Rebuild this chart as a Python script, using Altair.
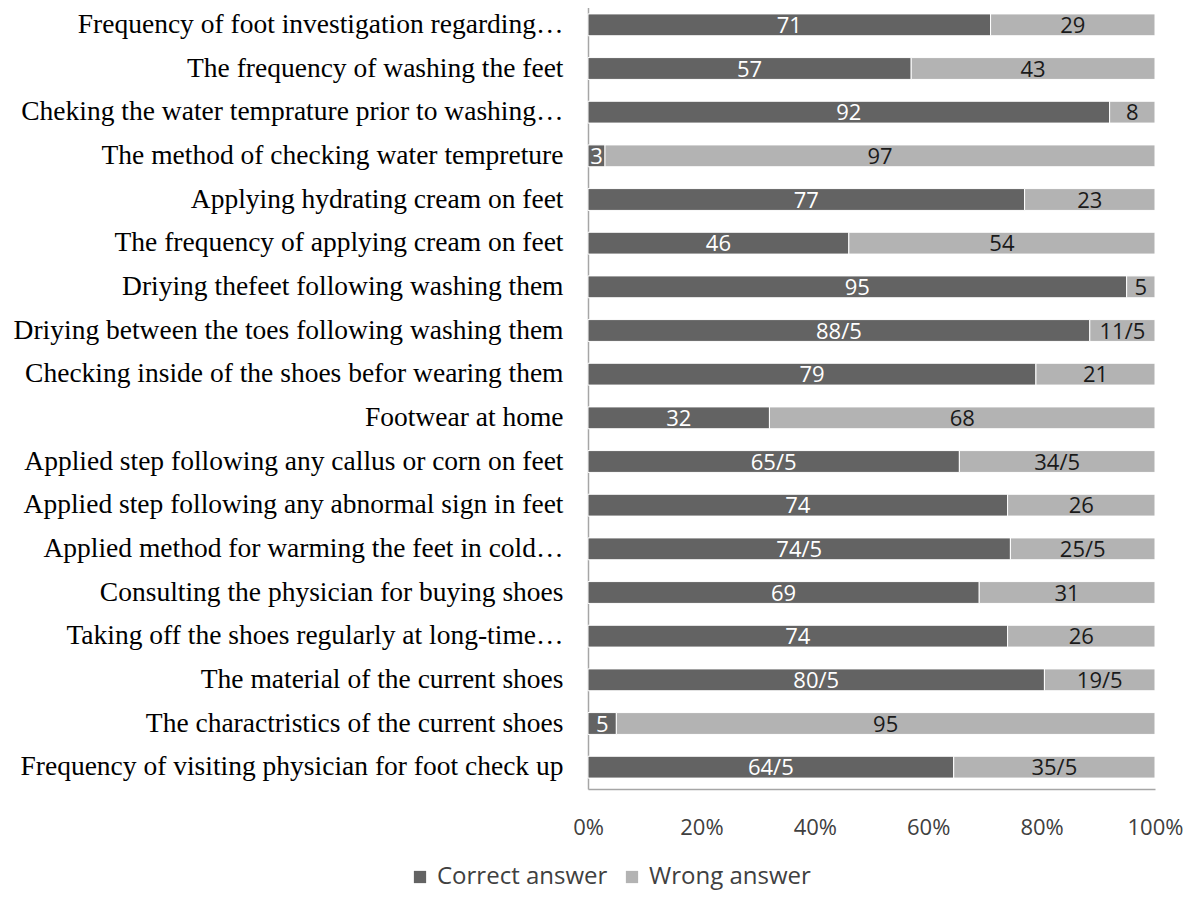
import altair as alt
import pandas as pd

categories = [
    "Frequency of foot investigation regarding…",
    "The frequency of washing the feet",
    "Cheking the water temprature prior to washing…",
    "The method of checking water tempreture",
    "Applying hydrating cream on feet",
    "The frequency of applying cream on feet",
    "Driying  thefeet following washing them",
    "Driying between the toes following washing them",
    "Checking inside of the shoes befor wearing them",
    "Footwear at home",
    "Applied step following any callus or corn on feet",
    "Applied step following any abnormal sign in feet",
    "Applied method for warming the feet in cold…",
    "Consulting the physician for buying shoes",
    "Taking off the shoes regularly at long-time…",
    "The material of the current shoes",
    "The charactristics of the current shoes",
    "Frequency of visiting physician for foot check up",
]
correct = [71, 57, 92, 3, 77, 46, 95, 88.5, 79, 32, 65.5, 74, 74.5, 69, 74, 80.5, 5, 64.5]
wrong = [29, 43, 8, 97, 23, 54, 5, 11.5, 21, 68, 34.5, 26, 25.5, 31, 26, 19.5, 95, 35.5]
correct_labels = ["71", "57", "92", "3", "77", "46", "95", "88/5", "79", "32", "65/5",
                  "74", "74/5", "69", "74", "80/5", "5", "64/5"]
wrong_labels = ["29", "43", "8", "97", "23", "54", "5", "11/5", "21", "68", "34/5",
                "26", "25/5", "31", "26", "19/5", "95", "35/5"]
series = ["Correct answer", "Wrong answer"]
x_ticks = [0, 20, 40, 60, 80, 100]

rows = []
for i, c in enumerate(categories):
    rows.append({"category": c, "answer": series[0], "value": correct[i],
                 "label": correct_labels[i], "order": 0})
    rows.append({"category": c, "answer": series[1], "value": wrong[i],
                 "label": wrong_labels[i], "order": 1})
df = pd.DataFrame(rows)

base = alt.Chart(df).transform_stack(
    stack="value", groupby=["category"], as_=["x0", "x1"],
    sort=[alt.SortField("order", order="ascending")]
).transform_calculate(mid="(datum.x0 + datum.x1) / 2")

y_enc = alt.Y(
    "category:N", sort=categories, title=None,
    scale=alt.Scale(paddingInner=0.5, paddingOuter=0.25),
    axis=alt.Axis(labelFont="Liberation Serif", labelFontSize=27.5, labelColor="#000000",
                  labelPadding=25, labelLimit=700, ticks=False, domainColor="#a6a6a6",
                  domainWidth=1.5),
)

bars = base.mark_bar(stroke="white", strokeWidth=1).encode(
    x=alt.X("x0:Q", scale=alt.Scale(domain=[0, 100], nice=False), title=None,
            axis=alt.Axis(values=x_ticks, labelExpr="datum.value + '%'", ticks=False,
                          grid=False, labelFont="Open Sans", labelFontSize=22,
                          labelColor="#404040", labelPadding=28, labelFlush=False,
                          domainColor="#a6a6a6", domainWidth=1.5)),
    x2="x1:Q",
    y=y_enc,
    color=alt.Color("answer:N",
                    scale=alt.Scale(domain=series, range=["#636363", "#b3b3b3"]),
                    legend=alt.Legend(title=None, orient="none", direction="horizontal",
                                      legendX=-180, legendY=862, symbolType="square",
                                      symbolSize=150, symbolStrokeWidth=0,
                                      labelFont="Open Sans", labelFontSize=24,
                                      labelColor="#404040", columnPadding=12,
                                      labelOffset=5, labelLimit=400)),
)

labels = base.mark_text(font="Open Sans", fontSize=22, baseline="middle", align="center",
                        dy=1).encode(
    x="mid:Q",
    y=alt.Y("category:N", sort=categories),
    text="label:N",
    color=alt.condition(alt.datum.answer == "Correct answer",
                        alt.value("#ffffff"), alt.value("#1a1a1a")),
)

chart = alt.layer(bars, labels).properties(
    width=567, height=786,
    autosize=alt.AutoSizeParams(type="none"),
    padding={"left": 580, "top": -5, "right": 29, "bottom": 103},
).configure_view(stroke=None)

chart.save("out.html", embed_options={"renderer": "svg", "actions": False})
